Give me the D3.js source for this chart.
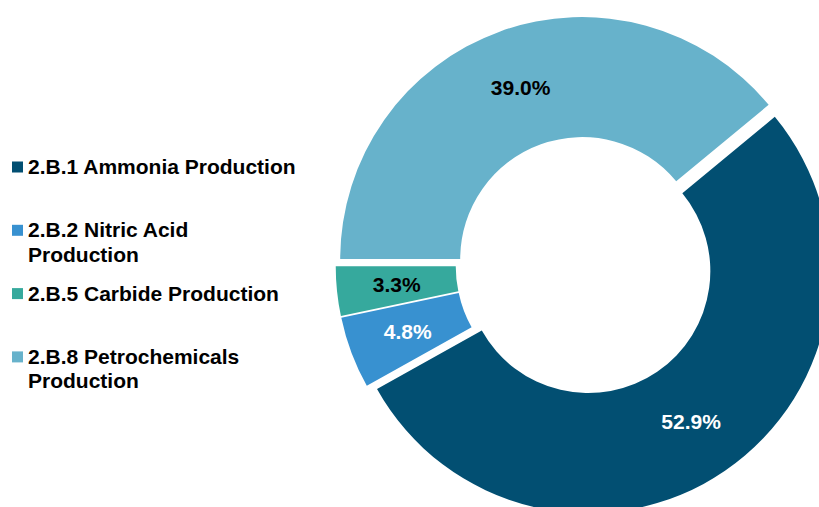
<!DOCTYPE html>
<html>
<head>
<meta charset="utf-8">
<script src="https://cdn.jsdelivr.net/npm/d3@7"></script>
<style>
  html, body { margin: 0; padding: 0; background: #ffffff; }
  svg { display: block; font-family: "Liberation Sans", Arial, sans-serif; }
</style>
</head>
<body>
<svg id="chart" width="819" height="507"></svg>
<script>
// ---- data ----
const categories = ["2.B.1 Ammonia Production", "2.B.2 Nitric Acid Production", "2.B.5 Carbide Production", "2.B.8 Petrochemicals Production"];
const legendLines = [["2.B.1 Ammonia Production"], ["2.B.2 Nitric Acid", "Production"], ["2.B.5 Carbide Production"], ["2.B.8 Petrochemicals", "Production"]];
const shares = [52.9, 4.8, 3.3, 39.0];
const valueLabels = ["52.9%", "4.8%", "3.3%", "39.0%"];
const colors = ["#024f72", "#3891d0", "#36a99d", "#67b2cb"];
const labelColors = ["#ffffff", "#ffffff", "#000000", "#000000"];

// ---- layout ----
const W = 819, H = 507;
const cx = 584.5, cy = 265.5;
const outerR = 242, innerR = 122;
const explode = 6.8;
const startDeg = 50.4;

const svg = d3.select("#chart");

const pie = d3.pie()
  .sort(null)
  .value(d => d.v)
  .startAngle(startDeg * Math.PI / 180)
  .endAngle(startDeg * Math.PI / 180 + 2 * Math.PI);

const data = shares.map((v, i) => ({ v, i }));
const arcs = pie(data);
const arc = d3.arc().innerRadius(innerR).outerRadius(outerR);

const g = svg.append("g").attr("transform", `translate(${cx},${cy})`);

const slices = g.selectAll("g.slice")
  .data(arcs)
  .enter().append("g")
  .attr("class", "slice")
  .attr("transform", d => {
    const m = (d.startAngle + d.endAngle) / 2;
    return `translate(${Math.sin(m) * explode},${-Math.cos(m) * explode})`;
  });

slices.append("path")
  .attr("d", arc)
  .attr("fill", d => colors[d.data.i]);

slices.append("text")
  .attr("transform", d => `translate(${arc.centroid(d)})`)
  .attr("text-anchor", "middle")
  .attr("dy", "0.35em")
  .attr("font-size", 21)
  .attr("font-weight", "bold")
  .attr("fill", d => labelColors[d.data.i])
  .text(d => valueLabels[d.data.i]);

// ---- legend ----
const legend = svg.append("g").attr("class", "legend");
const legX = 12, legBase0 = 174, legStep = 63.3, lineH = 24.4, sq = 11;

categories.forEach((c, i) => {
  const base = legBase0 + i * legStep;
  const item = legend.append("g");
  item.append("rect")
    .attr("x", legX)
    .attr("y", base - 7 - sq / 2)
    .attr("width", sq)
    .attr("height", sq)
    .attr("fill", colors[i]);
  const t = item.append("text")
    .attr("x", legX + 16)
    .attr("y", base)
    .attr("font-size", 21)
    .attr("font-weight", "bold")
    .attr("fill", "#000000");
  legendLines[i].forEach((ln, j) => {
    t.append("tspan").attr("x", legX + 16).attr("y", base + j * lineH).text(ln);
  });
});
</script>
</body>
</html>
